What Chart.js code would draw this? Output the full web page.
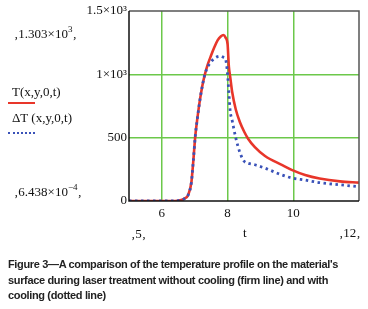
<!DOCTYPE html>
<html><head><meta charset="utf-8">
<script src="https://cdn.jsdelivr.net/npm/chart.js@4/dist/chart.umd.min.js"></script>
<style>
html,body{margin:0;padding:0;background:#fff;width:368px;height:309px;overflow:hidden;position:relative}
#wrap{position:absolute;left:0;top:0;width:368px;height:240px}
.lbl{position:absolute;font-family:"Liberation Serif","Times New Roman",serif;font-size:13px;color:#111;white-space:nowrap;line-height:1}
sup{font-size:9px;vertical-align:6px;line-height:0}
#cap{position:absolute;left:8px;top:257px;width:368px;font-family:"Liberation Sans",Arial,sans-serif;font-weight:bold;font-size:11px;line-height:15.5px;color:#222;letter-spacing:-0.35px;white-space:nowrap}
.sw{position:absolute;height:0}
</style></head><body>
<div id="wrap"><canvas id="c" width="368" height="240"></canvas></div>
<div class="lbl" style="left:14px;top:27px">‚1.303×10<sup>3</sup>‚</div>
<div class="lbl" style="left:12px;top:85px">T(x,y,0,t)</div>
<div class="sw" style="left:8px;top:102px;width:27px;border-top:2px solid #e8362a"></div>
<div class="lbl" style="left:12px;top:111px">ΔT (x,y,0,t)</div>
<div class="sw" style="left:8px;top:132px;width:27px;border-top:2px dotted #3a52b8"></div>
<div class="lbl" style="left:14px;top:185px">‚6.438×10<sup>−4</sup>‚</div>
<div class="lbl" style="left:131px;top:227px">‚5‚</div>
<div class="lbl" style="left:243px;top:226px">t</div>
<div class="lbl" style="left:339px;top:226px">‚12‚</div>
<div id="cap">Figure 3—A comparison of the temperature profile on the material's<br>surface during laser treatment without cooling (firm line) and with<br>cooling (dotted line)</div>
<script>
const tValues = [5, 6.4, 6.55, 6.7, 6.8, 6.9, 6.96, 7.02, 7.08, 7.16, 7.24, 7.31, 7.4, 7.5, 7.6, 7.7, 7.8, 7.87, 7.94, 8.0, 8.04, 8.08, 8.14, 8.25, 8.38, 8.51, 8.63, 8.83, 9.14, 9.65, 9.95, 10.36, 10.8, 11.42, 12];
const tempNoCooling = [0, 0, 5, 21, 48, 150, 325, 520, 650, 800, 920, 1000, 1080, 1150, 1215, 1270, 1300, 1310, 1290, 1238, 1060, 980, 860, 722, 620, 545, 490, 425, 355, 285, 246, 206, 178, 155, 145];
const tempCooling = [0, 0, 5, 21, 48, 150, 325, 520, 650, 800, 920, 1000, 1060, 1100, 1125, 1140, 1143, 1135, 1118, 1000, 850, 710, 635, 498, 379, 312, 298, 286, 259, 206, 182, 165, 145, 128, 113];
const xTicks = [6, 8, 10];
const yTicks = [0, 500, 1000, 1500];
const yTickLabels = ["0", "500", "1×10³", "1.5×10³"];

const toPts = arr => tValues.map((t, i) => ({x: t, y: arr[i]}));
const GREEN = '#6cc84a';

const frame = {
  id: 'frame',
  afterDraw(ch) {
    const a = ch.chartArea, ctx = ch.ctx;
    ctx.save();
    ctx.strokeStyle = '#555';
    ctx.lineWidth = 1.5;
    ctx.beginPath();
    ctx.moveTo(a.left, a.top); ctx.lineTo(a.right, a.top); ctx.lineTo(a.right, a.bottom);
    ctx.stroke();
    ctx.strokeStyle = '#111';
    ctx.lineWidth = 1.5;
    ctx.beginPath();
    ctx.moveTo(a.left, a.top); ctx.lineTo(a.left, a.bottom); ctx.lineTo(a.right, a.bottom);
    ctx.stroke();
    ctx.restore();
  }
};

new Chart(document.getElementById('c'), {
  type: 'line',
  data: {
    datasets: [
      {label: 'T(x,y,0,t)', data: toPts(tempNoCooling), borderColor: '#e8362a', borderWidth: 2.6, pointRadius: 0, cubicInterpolationMode: 'monotone', fill: false, order: 2},
      {label: 'ΔT(x,y,0,t)', data: toPts(tempCooling), borderColor: '#3a52b8', borderWidth: 2.8, borderDash: [2.5, 3.5], pointRadius: 0, cubicInterpolationMode: 'monotone', fill: false, order: 1}
    ]
  },
  options: {
    responsive: false, animation: false, events: [],
    layout: {padding: {top: 11, right: 9, left: 0, bottom: 0}},
    plugins: {legend: {display: false}, tooltip: {enabled: false}},
    scales: {
      x: {
        type: 'linear', min: 5, max: 12,
        afterBuildTicks: s => { s.ticks = xTicks.map(v => ({value: v})); },
        afterFit: s => { s.height = 39; },
        grid: {color: GREEN, lineWidth: 1.5, drawTicks: false},
        border: {display: false},
        ticks: {padding: 5, color: '#111', font: {family: 'Liberation Serif', size: 13}, callback: v => String(v)}
      },
      y: {
        type: 'linear', min: 0, max: 1500,
        afterBuildTicks: s => { s.ticks = yTicks.map(v => ({value: v})); },
        afterFit: s => { s.width = 129; },
        grid: {color: c => (c.tick && (c.tick.value === 500 || c.tick.value === 1000)) ? GREEN : 'rgba(0,0,0,0)', lineWidth: 1.5, drawTicks: false},
        border: {display: false},
        ticks: {padding: 2, color: '#111', font: {family: 'Liberation Serif', size: 13},
          callback: (v) => { const i = yTicks.indexOf(v); return i >= 0 ? yTickLabels[i] : ''; }}
      }
    }
  },
  plugins: [frame]
});
</script>
</body></html>
